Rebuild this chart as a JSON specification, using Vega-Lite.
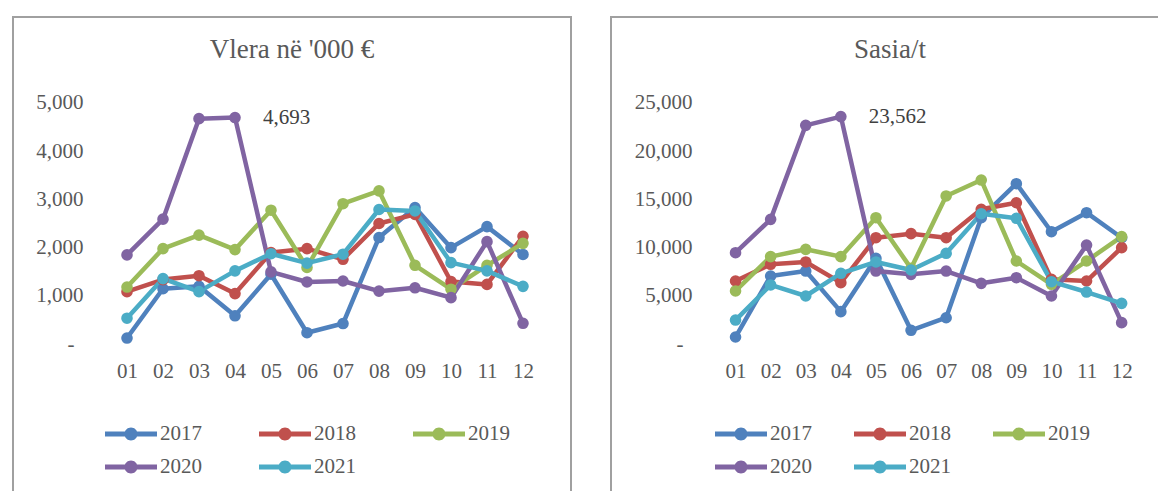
{
 "$schema": "https://vega.github.io/schema/vega-lite/v6.json",
 "padding": {"left": 12, "top": 16, "right": 0, "bottom": 0},
 "background": "white",
 "spacing": 38,
 "config": {
  "view": {"stroke": "#a0a0a0", "strokeWidth": 2},
  "font": "Liberation Serif",
  "title": {"font": "Liberation Serif", "fontSize": 27, "fontWeight": "normal", "color": "#595959", "offset": -47, "baseline": "alphabetic", "anchor": "middle"},
  "axis": {"labelFont": "Liberation Serif", "labelFontSize": 21, "labelColor": "#595959", "domain": false, "ticks": false, "grid": false, "title": null, "labelOverlap": false, "labelFlush": false},
  "legend": {"orient": "none", "direction": "horizontal", "columns": 3, "rowPadding": 12, "clipHeight": 20, "symbolType": "M-1,-0.096L1,-0.096L1,0.096L-1,0.096Z M0.25,0A0.25,0.25 0 1,1 -0.25,0A0.25,0.25 0 1,1 0.25,0Z", "symbolSize": 2704, "symbolStrokeWidth": 0, "labelOffset": 3, "labelFont": "Liberation Serif", "labelFontSize": 21, "labelColor": "#595959", "padding": 0}
 },
 "datasets": {
  "vlera": [
   {"m":1,"2017":130,"2018":1090,"2019":1185,"2020":1850,"2021":540},
   {"m":2,"2017":1150,"2018":1340,"2019":1980,"2020":2590,"2021":1360},
   {"m":3,"2017":1200,"2018":1420,"2019":2260,"2020":4670,"2021":1090},
   {"m":4,"2017":590,"2018":1050,"2019":1960,"2020":4693,"2021":1520},
   {"m":5,"2017":1450,"2018":1900,"2019":2775,"2020":1500,"2021":1875},
   {"m":6,"2017":240,"2018":1980,"2019":1590,"2020":1290,"2021":1680},
   {"m":7,"2017":430,"2018":1760,"2019":2910,"2020":1310,"2021":1865},
   {"m":8,"2017":2210,"2018":2500,"2019":3175,"2020":1100,"2021":2790},
   {"m":9,"2017":2830,"2018":2690,"2019":1635,"2020":1170,"2021":2760},
   {"m":10,"2017":2000,"2018":1300,"2019":1140,"2020":965,"2021":1690},
   {"m":11,"2017":2435,"2018":1240,"2019":1635,"2020":2125,"2021":1520},
   {"m":12,"2017":1860,"2018":2235,"2019":2090,"2020":435,"2021":1200}
  ],
  "sasia": [
   {"m":1,"2017":755,"2018":6550,"2019":5520,"2020":9480,"2021":2510},
   {"m":2,"2017":7070,"2018":8280,"2019":9070,"2020":12930,"2021":6140},
   {"m":3,"2017":7580,"2018":8520,"2019":9830,"2020":22660,"2021":5000},
   {"m":4,"2017":3380,"2018":6380,"2019":9070,"2020":23562,"2021":7350},
   {"m":5,"2017":8900,"2018":11030,"2019":13100,"2020":7580,"2021":8520},
   {"m":6,"2017":1450,"2018":11450,"2019":7860,"2020":7240,"2021":7690},
   {"m":7,"2017":2750,"2018":11030,"2019":15350,"2020":7580,"2021":9420},
   {"m":8,"2017":13100,"2018":13970,"2019":17000,"2020":6310,"2021":13510},
   {"m":9,"2017":16620,"2018":14650,"2019":8620,"2020":6890,"2021":13040},
   {"m":10,"2017":11650,"2018":6720,"2019":6210,"2020":5000,"2021":6480},
   {"m":11,"2017":13620,"2018":6550,"2019":8620,"2020":10270,"2021":5410},
   {"m":12,"2017":11030,"2018":10000,"2019":11140,"2020":2240,"2021":4240}
  ],
  "grid1": [{"v":0},{"v":1000},{"v":2000},{"v":3000},{"v":4000},{"v":5000}],
  "grid2": [{"v":0},{"v":5000},{"v":10000},{"v":15000},{"v":20000},{"v":25000}]
 },
 "resolve": {"legend": {"color": "independent"}},
 "hconcat": [
  {
   "width": 558, "height": 480,
   "title": "Vlera në '000 €",
   "encoding": {
    "x": {"field": "m", "type": "quantitative", "scale": {"domain": [-2.1667, 13.3333], "nice": false, "zero": false},
          "axis": {"values": [1,2,3,4,5,6,7,8,9,10,11,12], "labelExpr": "datum.value < 10 ? '0' + datum.value : '' + datum.value", "offset": -153, "labelPadding": 16}},
    "y": {"field": "v", "type": "quantitative", "scale": {"domain": [-3160, 6774], "nice": false, "zero": false},
          "axis": {"values": [0,1000,2000,3000,4000,5000], "labelExpr": "datum.value == 0 ? '-' : format(datum.value, ',')", "offset": -72, "labelPadding": {"condition": {"test": "datum.value == 0", "value": 11}, "value": 2}}}
   },
   "layer": [
    {"data": {"name": "grid1"}, "mark": {"type": "rule", "color": "#d9d9d9", "strokeWidth": 1.3},
     "encoding": {"x": {"datum": 0.5, "type": "quantitative", "scale": {"domain": [-2.1667, 13.3333], "nice": false, "zero": false}}, "x2": {"datum": 12.5}}},
    {"data": {"name": "vlera"}, "transform": [{"fold": ["2017","2018","2019","2020","2021"], "as": ["year","v"]}],
     "mark": {"type": "line", "strokeWidth": 4.5, "strokeCap": "round", "strokeJoin": "round"},
     "encoding": {"color": {"field": "year", "type": "nominal",
        "scale": {"domain": ["2017","2018","2019","2020","2021"], "range": ["#4F81BD","#C0504D","#9BBB59","#8064A2","#4BACC6"]},
        "legend": {"title": null, "legendX": 92, "legendY": 407, "columnPadding": 57,
          "encode": {"symbols": {"update": {"fill": {"signal": "datum.value == '2017' ? '#4F81BD' : datum.value == '2018' ? '#C0504D' : datum.value == '2019' ? '#9BBB59' : datum.value == '2020' ? '#8064A2' : '#4BACC6'"}}}}}}}},
    {"data": {"name": "vlera"}, "transform": [{"fold": ["2017","2018","2019","2020","2021"], "as": ["year","v"]}],
     "mark": {"type": "point", "filled": true, "size": 135, "opacity": 1},
     "encoding": {"color": {"field": "year", "type": "nominal",
        "legend": {"title": null, "legendX": 92, "legendY": 407, "columnPadding": 57,
          "encode": {"symbols": {"update": {"fill": {"signal": "datum.value == '2017' ? '#4F81BD' : datum.value == '2018' ? '#C0504D' : datum.value == '2019' ? '#9BBB59' : datum.value == '2020' ? '#8064A2' : '#4BACC6'"}}}}}}}},
    {"data": {"name": "vlera"}, "transform": [{"fold": ["2017","2018","2019","2020","2021"], "as": ["year","v"]}, {"filter": "datum.year == '2020' && datum.m == 4"}],
     "mark": {"type": "text", "align": "left", "baseline": "middle", "dx": 28, "fontSize": 21, "font": "Liberation Serif", "color": "#404040"},
     "encoding": {"text": {"field": "v", "type": "quantitative", "format": ","}}}
   ]
  },
  {
   "width": 558, "height": 480,
   "title": "Sasia/t",
   "encoding": {
    "x": {"field": "m", "type": "quantitative", "scale": {"domain": [-2.548, 13.349], "nice": false, "zero": false},
          "axis": {"values": [1,2,3,4,5,6,7,8,9,10,11,12], "labelExpr": "datum.value < 10 ? '0' + datum.value : '' + datum.value", "offset": -153, "labelPadding": 16}},
    "y": {"field": "v", "type": "quantitative", "scale": {"domain": [-15800, 33870], "nice": false, "zero": false},
          "axis": {"values": [0,5000,10000,15000,20000,25000], "labelExpr": "datum.value == 0 ? '-' : format(datum.value, ',')", "offset": -83, "labelPadding": {"condition": {"test": "datum.value == 0", "value": 11}, "value": 2}}}
   },
   "layer": [
    {"data": {"name": "grid2"}, "mark": {"type": "rule", "color": "#d9d9d9", "strokeWidth": 1.3},
     "encoding": {"x": {"datum": 0.5, "type": "quantitative", "scale": {"domain": [-2.548, 13.349], "nice": false, "zero": false}}, "x2": {"datum": 12.5}}},
    {"data": {"name": "sasia"}, "transform": [{"fold": ["2017","2018","2019","2020","2021"], "as": ["year","v"]}],
     "mark": {"type": "line", "strokeWidth": 4.5, "strokeCap": "round", "strokeJoin": "round"},
     "encoding": {"color": {"field": "year", "type": "nominal",
        "scale": {"domain": ["2017","2018","2019","2020","2021"], "range": ["#4F81BD","#C0504D","#9BBB59","#8064A2","#4BACC6"]},
        "legend": {"title": null, "legendX": 104, "legendY": 407, "columnPadding": 42,
          "encode": {"symbols": {"update": {"fill": {"signal": "datum.value == '2017' ? '#4F81BD' : datum.value == '2018' ? '#C0504D' : datum.value == '2019' ? '#9BBB59' : datum.value == '2020' ? '#8064A2' : '#4BACC6'"}}}}}}}},
    {"data": {"name": "sasia"}, "transform": [{"fold": ["2017","2018","2019","2020","2021"], "as": ["year","v"]}],
     "mark": {"type": "point", "filled": true, "size": 135, "opacity": 1},
     "encoding": {"color": {"field": "year", "type": "nominal",
        "legend": {"title": null, "legendX": 104, "legendY": 407, "columnPadding": 42,
          "encode": {"symbols": {"update": {"fill": {"signal": "datum.value == '2017' ? '#4F81BD' : datum.value == '2018' ? '#C0504D' : datum.value == '2019' ? '#9BBB59' : datum.value == '2020' ? '#8064A2' : '#4BACC6'"}}}}}}}},
    {"data": {"name": "sasia"}, "transform": [{"fold": ["2017","2018","2019","2020","2021"], "as": ["year","v"]}, {"filter": "datum.year == '2020' && datum.m == 4"}],
     "mark": {"type": "text", "align": "left", "baseline": "middle", "dx": 28, "fontSize": 21, "font": "Liberation Serif", "color": "#404040"},
     "encoding": {"text": {"field": "v", "type": "quantitative", "format": ","}}}
   ]
  }
 ]
}
